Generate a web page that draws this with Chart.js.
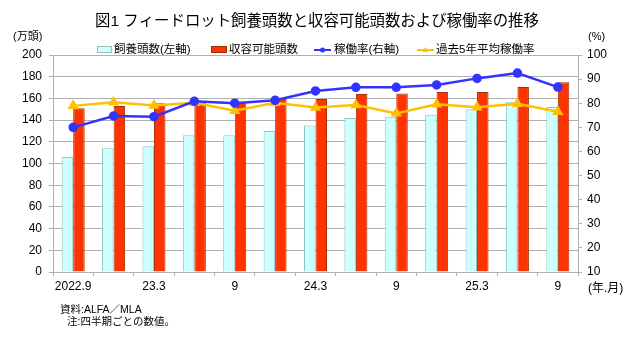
<!DOCTYPE html>
<html>
<head>
<meta charset="utf-8">
<script src="https://cdn.jsdelivr.net/npm/chart.js@4.4.1/dist/chart.umd.min.js"></script>
<style>
  html, body { margin: 0; padding: 0; background: #fff; }
  #wrap { width: 640px; height: 338px; position: relative; }
</style>
</head>
<body>
<div id="wrap"><canvas id="c" width="640" height="338"></canvas></div>
<script>
// 四半期ごとの数値
const categories = ['2022.9', '22.12', '23.3', '23.6', '23.9', '23.12', '24.3', '24.6', '24.9', '24.12', '25.3', '25.6', '25.9'];
const tickLabels = ['2022.9', '', '23.3', '', '9', '', '24.3', '', '9', '', '25.3', '', '9'];
const feedingHead = [106, 114, 116, 126, 126, 130, 135, 142, 143, 145, 150, 157, 152];      // 飼養頭数(万頭)
const capacityHead = [151, 153, 155.5, 157, 157, 159.5, 159.5, 164, 164.5, 166, 166, 170.5, 175]; // 収容可能頭数
const utilRate = [70, 74.7, 74.4, 80.8, 80, 81.2, 85.1, 86.6, 86.6, 87.6, 90.3, 92.5, 86.7];    // 稼働率(%)
const avg5yRate = [78.9, 80.4, 79.1, 80.2, 76.9, 80.2, 78.2, 79.3, 75.8, 79.6, 78.3, 79.8, 76.5]; // 過去5年平均稼働率

const JP = '"Liberation Sans", "Noto Sans CJK JP", sans-serif';
const GRID = '#b0b0b0';

const CYAN = '#ccffff', CYAN_B = '#8fc4c4';
const RED = '#ff3300', RED_B = '#a63000';
const BLUE = '#3333ff', YELLOW = '#ffc000';

// タイトル・凡例・注記
const decorations = {
  id: 'decorations',
  afterDraw(chart) {
    const ctx = chart.ctx;
    ctx.save();
    ctx.fillStyle = '#000';
    ctx.textBaseline = 'middle';

    ctx.font = '15.4px ' + JP;
    ctx.textAlign = 'center';
    ctx.fillText('図1 フィードロット飼養頭数と収容可能頭数および稼働率の推移', 317, 22);

    ctx.font = '11px ' + JP;
    ctx.textAlign = 'left';
    ctx.fillText('(万頭)', 13, 37);
    ctx.fillText('(%)', 588, 37);
    ctx.font = '12px ' + JP;
    ctx.fillText('(年.月)', 588, 289);

    // 凡例
    const ly = 50;
    ctx.font = '11.5px ' + JP;
    ctx.fillStyle = CYAN; ctx.strokeStyle = CYAN_B; ctx.lineWidth = 1;
    ctx.fillRect(97, 46, 15, 7); ctx.strokeRect(97.5, 46.5, 14, 6);
    ctx.fillStyle = '#000'; ctx.fillText('飼養頭数(左軸)', 114, ly);

    ctx.fillStyle = RED; ctx.strokeStyle = RED_B;
    ctx.fillRect(211, 46, 16, 7); ctx.strokeRect(211.5, 46.5, 15, 6);
    ctx.fillStyle = '#000'; ctx.fillText('収容可能頭数', 229, ly);

    ctx.strokeStyle = BLUE; ctx.lineWidth = 2;
    ctx.beginPath(); ctx.moveTo(314, ly); ctx.lineTo(331, ly); ctx.stroke();
    ctx.fillStyle = BLUE;
    ctx.beginPath(); ctx.arc(322.5, ly, 2.5, 0, Math.PI * 2); ctx.fill();
    ctx.fillStyle = '#000'; ctx.fillText('稼働率(右軸)', 334, ly);

    ctx.strokeStyle = YELLOW; ctx.lineWidth = 2;
    ctx.beginPath(); ctx.moveTo(417, ly); ctx.lineTo(434, ly); ctx.stroke();
    ctx.fillStyle = YELLOW;
    ctx.beginPath(); ctx.moveTo(425.5, ly - 3); ctx.lineTo(428.5, ly + 2); ctx.lineTo(422.5, ly + 2); ctx.closePath(); ctx.fill();
    ctx.fillStyle = '#000'; ctx.fillText('過去5年平均稼働率', 436, ly);

    // 資料・注
    ctx.font = '10.5px ' + JP;
    ctx.fillText('資料:ALFA／MLA', 60, 310);
    ctx.fillText('注:四半期ごとの数値。', 67, 322);
    ctx.restore();
  }
};

new Chart(document.getElementById('c'), {
  type: 'bar',
  data: {
    labels: categories,
    datasets: [
      { label: '飼養頭数(左軸)', data: feedingHead, yAxisID: 'y', backgroundColor: CYAN, borderColor: CYAN_B, borderWidth: 1, order: 2 },
      { label: '収容可能頭数', data: capacityHead, yAxisID: 'y', backgroundColor: RED, borderColor: RED_B, borderWidth: 1, order: 2 },
      { type: 'line', label: '稼働率(右軸)', data: utilRate, yAxisID: 'y1', borderColor: BLUE, backgroundColor: BLUE,
        borderWidth: 2.5, pointRadius: 3.5, pointStyle: 'circle', order: 0, tension: 0 },
      { type: 'line', label: '過去5年平均稼働率', data: avg5yRate, yAxisID: 'y1', borderColor: YELLOW, backgroundColor: YELLOW,
        borderWidth: 2.5, pointRadius: 4, pointStyle: 'triangle', order: 1, tension: 0 }
    ]
  },
  options: {
    responsive: false,
    animation: false,
    layout: { padding: { top: 55, left: 0, right: 0, bottom: 36 } },
    datasets: { bar: { categoryPercentage: 0.57, barPercentage: 1.0 } },
    plugins: { legend: { display: false }, title: { display: false }, tooltip: { enabled: false } },
    scales: {
      x: {
        offset: true,
        grid: { display: true, drawOnChartArea: false, offset: true, tickLength: 4, color: GRID },
        border: { color: GRID },
        ticks: {
          autoSkip: false, maxRotation: 0, padding: 3, color: '#000',
          font: { family: JP, size: 12 },
          callback: (v, i) => tickLabels[i]
        },
        afterFit: s => { s.height = 30; }
      },
      y: {
        position: 'left', min: 0, max: 200,
        grid: { color: GRID, tickLength: 4 },
        border: { color: GRID },
        ticks: { stepSize: 20, padding: 7, color: '#000', font: { family: JP, size: 12 } },
        afterFit: s => { s.width = 53; }
      },
      y1: {
        position: 'right', min: 10, max: 100,
        grid: { drawOnChartArea: false, tickLength: 4, color: GRID },
        border: { color: GRID },
        ticks: { stepSize: 10, padding: 5, color: '#000', font: { family: JP, size: 12 } },
        afterFit: s => { s.width = 62; }
      }
    }
  },
  plugins: [decorations]
});
</script>
</body>
</html>
